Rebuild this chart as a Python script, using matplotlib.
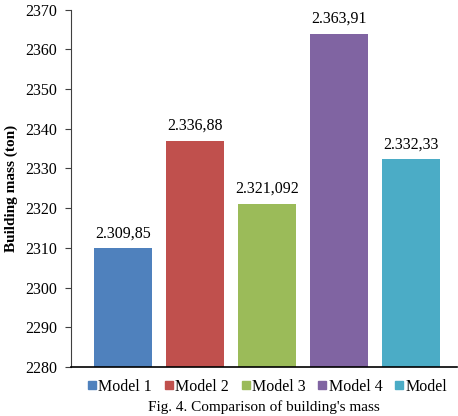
import matplotlib.pyplot as plt
from matplotlib.lines import Line2D

plt.rcParams['font.family'] = ['Liberation Serif', 'DejaVu Serif']

models = ['Model 1', 'Model 2', 'Model 3', 'Model 4', 'Model']
mass = [2309.85, 2336.88, 2321.092, 2363.91, 2332.33]
value_labels = ['2.309,85', '2.336,88', '2.321,092', '2.363,91', '2.332,33']
colors = ['#4F81BD', '#C0504D', '#9BBB59', '#8064A2', '#4BACC6']
yticks = list(range(2280, 2371, 10))

fig = plt.figure(figsize=(4.58, 4.16), dpi=100)
ax = fig.add_axes([0.155, 0.118, 0.843, 0.859])

x = list(range(len(models)))
ax.bar(x, [m - 2280 for m in mass], bottom=2280, width=0.806, color=colors)

for xi, m, lab in zip(x, mass, value_labels):
    ax.annotate(lab, (xi, m), xytext=(0, 5), textcoords='offset points',
                ha='center', va='bottom', fontsize=11.5)

ax.set_ylim(2280, 2370)
ax.set_xlim(-0.722, 4.64)
ax.set_yticks(yticks)
ax.set_xticks([])
ax.tick_params(axis='y', labelsize=11.5, length=4, width=0.8, color='#404040', pad=6)
for s in ['top', 'right']:
    ax.spines[s].set_visible(False)
ax.spines['left'].set_color('#404040')
ax.spines['left'].set_linewidth(0.8)
ax.spines['bottom'].set_color('black')
ax.spines['bottom'].set_linewidth(1.2)
ax.set_ylabel('Building mass (ton)', fontsize=11, fontweight='bold', labelpad=5)

handles = [Line2D([], [], marker='s', linestyle='', color=c, markersize=5.5) for c in colors]
fig.legend(handles, models, loc='center', bbox_to_anchor=(0.58, 0.07), ncol=5,
           frameon=False, fontsize=11.5, handletextpad=-0.1, columnspacing=0.55,
           handlelength=1.0, borderaxespad=0, borderpad=0)

fig.text(0.577, 0.004, "Fig. 4. Comparison of building's mass", ha='center', va='bottom', fontsize=11)

fig.savefig('out.png', dpi=100)
